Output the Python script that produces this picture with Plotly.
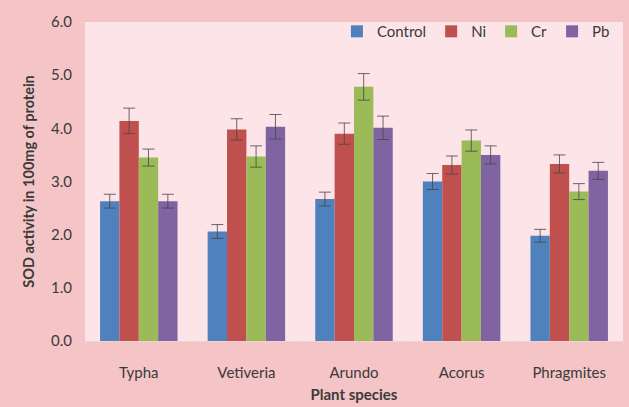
import plotly.graph_objects as go

species = ["Typha", "Vetiveria", "Arundo", "Acorus", "Phragmites"]
series_names = ["Control", "Ni", "Cr", "Pb"]

control = [2.63, 2.06, 2.67, 3.00, 1.98]
ni = [4.14, 3.98, 3.90, 3.31, 3.33]
cr = [3.45, 3.47, 4.78, 3.77, 2.81]
pb = [2.63, 4.03, 4.01, 3.50, 3.20]

control_err = [0.13, 0.13, 0.13, 0.15, 0.12]
ni_err = [0.24, 0.20, 0.20, 0.17, 0.17]
cr_err = [0.16, 0.20, 0.25, 0.20, 0.15]
pb_err = [0.13, 0.23, 0.22, 0.17, 0.16]

y_ticks = [0, 1, 2, 3, 4, 5, 6]
y_tick_text = ["0.0", "1.0", "2.0", "3.0", "4.0", "5.0", "6.0"]

colors = ["#4F81BD", "#C0504D", "#9BBB59", "#8064A2"]
values = [control, ni, cr, pb]
errors = [control_err, ni_err, cr_err, pb_err]

FONT = "Lato"
TEXT = "#3a3a3a"

fig = go.Figure()
for name, vals, errs, col in zip(series_names, values, errors, colors):
    fig.add_trace(go.Bar(
        name=name, x=species, y=vals, marker_color=col,
        marker_line_width=0,
        error_y=dict(type="data", array=errs, visible=True,
                     color="rgba(70,70,70,0.8)", thickness=1, width=6),
    ))

fig.update_layout(
    width=629, height=407,
    margin=dict(l=85, r=6, t=22, b=63),
    paper_bgcolor="#F5C4C6",
    plot_bgcolor="#FCE4E8",
    barmode="group",
    bargap=0.28,
    bargroupgap=0,
    font=dict(family=FONT, color=TEXT, size=14),
    showlegend=True,
    legend=dict(orientation="h", x=0.985, xanchor="right", y=0.97, yanchor="middle",
                bgcolor="rgba(0,0,0,0)", font=dict(size=15, family=FONT, color=TEXT),
                itemwidth=30, traceorder="normal"),
    xaxis=dict(
        title=dict(text="<b>Plant species</b>", font=dict(size=15, family=FONT, color=TEXT), standoff=9),
        showgrid=False, zeroline=False,
        showline=True, linecolor="#F2D0D4", linewidth=1,
        ticks="outside", tickson="boundaries", ticklen=5, tickcolor="#F2CFD2",
        ticklabelstandoff=18,
        tickfont=dict(size=15, family=FONT, color=TEXT),
    ),
    yaxis=dict(
        title=dict(text="<b>SOD activity in 100mg of protein</b>", font=dict(size=14.5, family=FONT, color=TEXT), standoff=12),
        range=[0, 6], tickvals=y_ticks, ticktext=y_tick_text,
        showgrid=False, zeroline=False,
        showline=False,
        ticks="outside", ticklen=5, tickcolor="#F2CFD2",
        ticklabelstandoff=4,
        tickfont=dict(size=15, family=FONT, color=TEXT),
    ),
)

fig.write_html("out.html", config={"displayModeBar": False},
               post_script="document.body.style.margin='0';document.body.style.background='#F5C4C6';")
